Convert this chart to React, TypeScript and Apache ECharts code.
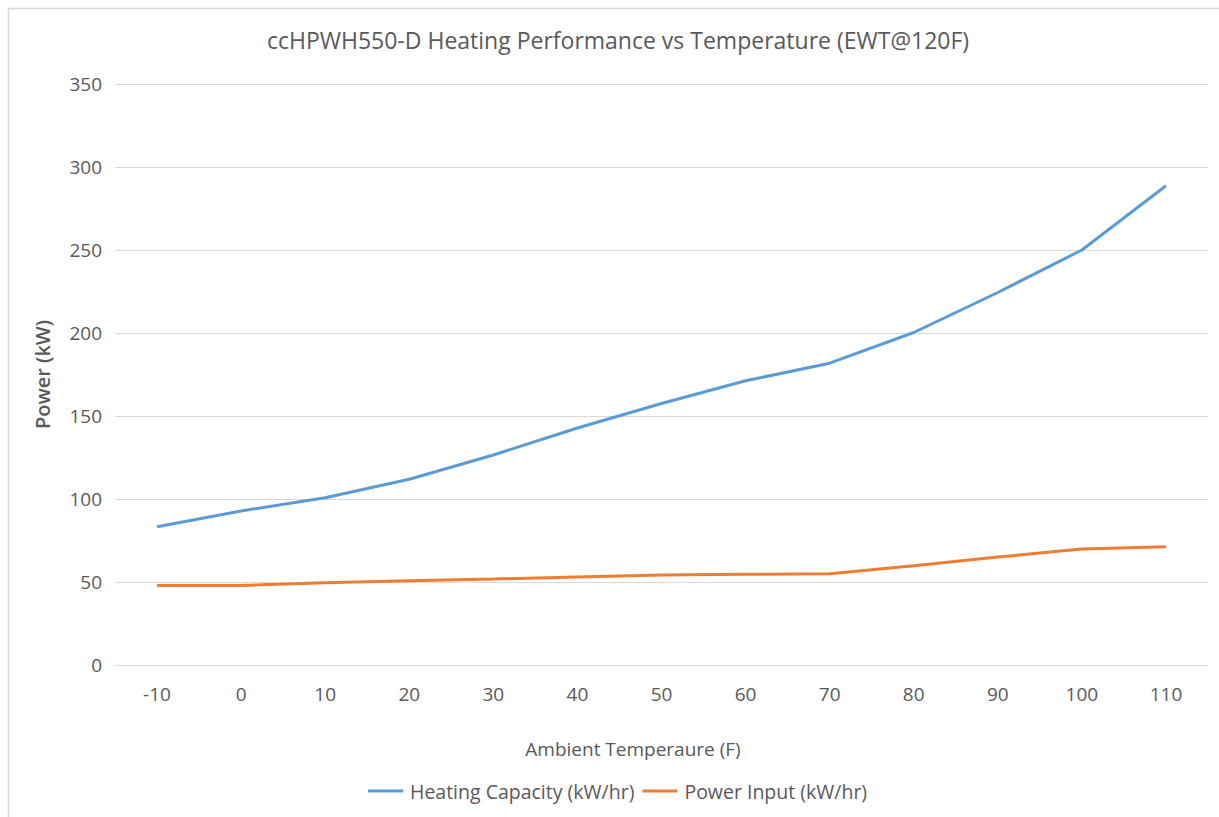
import React, { useEffect, useRef } from "react";
import * as echarts from "echarts";

const categories = ["-10", "0", "10", "20", "30", "40", "50", "60", "70", "80", "90", "100", "110"];
const heatingCapacity = [83.3, 92.8, 100.8, 111.9, 126.5, 142.8, 157.5, 171.2, 181.8, 200.3, 224.4, 250, 288.7];
const powerInput = [47.9, 47.9, 49.6, 50.8, 51.8, 53, 54.2, 54.7, 54.9, 59.8, 65, 69.9, 71.3];
const yTicks = { min: 0, max: 350, interval: 50 };

const FONT = "'Open Sans', 'Noto Sans', sans-serif";
const TXT = "#595959";

export default function App() {
  const ref = useRef<HTMLDivElement>(null);
  useEffect(() => {
    if (!ref.current) return;
    const chart = echarts.init(ref.current, null, { renderer: "svg" });
    chart.setOption({
      animation: false,
      backgroundColor: "#ffffff",
      textStyle: { fontFamily: FONT },
      grid: { left: 115, right: 11, top: 84, bottom: 152, containLabel: false },
      legend: {
        left: 368,
        top: 781,
        padding: 0,
        icon: "rect",
        itemWidth: 35,
        itemHeight: 3,
        itemGap: 8,
        textStyle: { fontFamily: FONT, fontSize: 19.5, color: TXT, padding: [0, 0, 0, 2] },
        data: ["Heating Capacity (kW/hr)", "Power Input (kW/hr)"],
      },
      xAxis: {
        type: "category",
        data: categories,
        boundaryGap: true,
        axisLine: { show: true, lineStyle: { color: "#d9d9d9", width: 1 } },
        axisTick: { show: false },
        axisLabel: { color: TXT, fontSize: 19, fontFamily: FONT, margin: 19 },
        splitLine: { show: false },
      },
      yAxis: {
        type: "value",
        min: yTicks.min,
        max: yTicks.max,
        interval: yTicks.interval,
        name: "Power (kW)",
        nameLocation: "middle",
        nameGap: 63,
        nameRotate: 90,
        nameTextStyle: { color: TXT, fontSize: 20, fontWeight: 600, fontFamily: FONT },
        axisLine: { show: false },
        axisTick: { show: false },
        axisLabel: { color: TXT, fontSize: 19, fontFamily: FONT, margin: 13 },
        splitLine: { show: true, lineStyle: { color: "#d9d9d9", width: 1 } },
      },
      series: [
        {
          name: "Heating Capacity (kW/hr)",
          type: "line",
          data: heatingCapacity,
          symbol: "none",
          lineStyle: { color: "#5b9bd5", width: 3 },
          itemStyle: { color: "#5b9bd5" },
        },
        {
          name: "Power Input (kW/hr)",
          type: "line",
          data: powerInput,
          symbol: "none",
          lineStyle: { color: "#ed7d31", width: 3 },
          itemStyle: { color: "#ed7d31" },
        },
      ],
      graphic: [
        {
          type: "line",
          shape: { x1: 8, y1: 8.5, x2: 1219, y2: 8.5 },
          style: { stroke: "#d9d9d9", lineWidth: 1.5 },
        },
        {
          type: "line",
          shape: { x1: 8.5, y1: 8, x2: 8.5, y2: 817 },
          style: { stroke: "#d9d9d9", lineWidth: 1.5 },
        },
        {
          type: "text",
          x: 618,
          y: 40,
          style: {
            text: "ccHPWH550-D Heating Performance vs Temperature (EWT@120F)",
            fill: TXT,
            fontSize: 23,
            fontFamily: FONT,
            textAlign: "center",
            textVerticalAlign: "middle",
          },
        },
        {
          type: "text",
          x: 633,
          y: 749,
          style: {
            text: "Ambient Temperaure (F)",
            fill: TXT,
            fontSize: 19,
            fontFamily: FONT,
            textAlign: "center",
            textVerticalAlign: "middle",
          },
        },
      ],
    });
    return () => chart.dispose();
  }, []);
  return (
    <div
      ref={ref}
      style={{ position: "fixed", left: 0, top: 0, width: 1219, height: 817, background: "#fff" }}
    />
  );
}
